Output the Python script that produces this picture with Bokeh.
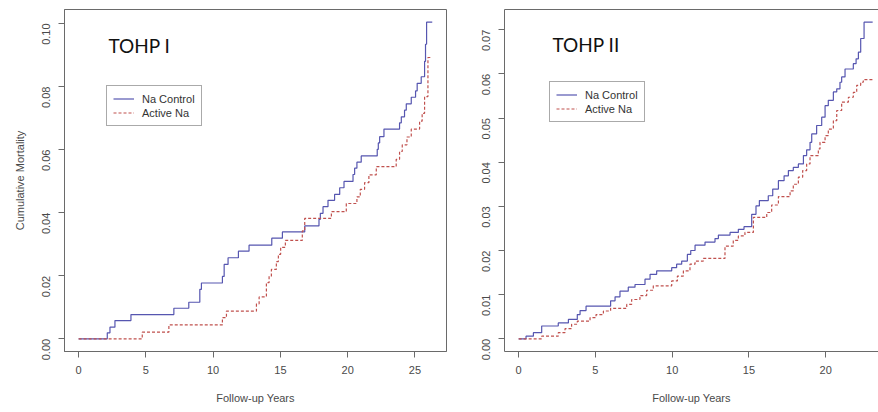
from bokeh.plotting import figure
from bokeh.layouts import row
from bokeh.models import (Legend, LegendItem, Label, FixedTicker,
                          NumeralTickFormatter, Range1d, LinearAxis)
from bokeh.embed import file_html
from bokeh.resources import INLINE

# ---------------- data ----------------
panel_titles = ["TOHP I", "TOHP II"]
series_names = ["Na Control", "Active Na"]

# TOHP I
t1_control_times = [2.13, 2.33, 2.70, 3.89, 7.08, 8.19, 9.01, 9.13, 10.69, 10.82,
                    11.11, 11.88, 12.67, 14.36, 15.15, 16.81, 17.87, 17.97, 18.17,
                    18.54, 19.03, 19.41, 19.73, 20.40, 20.52, 20.69, 21.01, 22.20,
                    22.28, 22.38, 22.70, 23.86, 23.99, 24.23, 24.36, 24.73, 25.05,
                    25.17, 25.47, 25.72, 25.79, 25.87]
t1_control_vals = [0.0019, 0.0037, 0.0058, 0.0077, 0.0097, 0.0116, 0.0157, 0.0177,
                   0.0198, 0.0236, 0.0257, 0.0278, 0.0297, 0.0319, 0.0339, 0.0358,
                   0.0379, 0.0398, 0.0419, 0.0439, 0.0458, 0.0479, 0.0499, 0.0521,
                   0.0541, 0.0560, 0.0580, 0.0601, 0.0621, 0.0641, 0.0665, 0.0685,
                   0.0704, 0.0725, 0.0745, 0.0766, 0.0786, 0.0810, 0.0831, 0.0880,
                   0.0934, 0.1004]
t1_active_times = [4.73, 6.71, 10.69, 10.99, 13.22, 13.42, 13.96, 14.16, 14.33, 14.70,
                   14.85, 15.02, 15.37, 16.63, 16.81, 18.79, 19.90, 20.69, 20.94,
                   21.26, 21.58, 22.13, 23.61, 23.86, 24.06, 24.41, 24.73, 25.35,
                   25.54, 25.72, 25.97]
t1_active_vals = [0.0021, 0.0044, 0.0067, 0.0088, 0.0111, 0.0133, 0.0178, 0.0199,
                  0.0220, 0.0245, 0.0268, 0.0290, 0.0312, 0.0342, 0.0382, 0.0403,
                  0.0429, 0.0450, 0.0474, 0.0495, 0.0520, 0.0546, 0.0569, 0.0594,
                  0.0615, 0.0640, 0.0665, 0.0690, 0.0715, 0.0768, 0.0892]
t1_end_time = 26.29

# TOHP II
t2_control_times = [0.48, 0.96, 1.50, 2.58, 3.24, 3.82, 4.00, 4.39, 5.99, 6.28, 6.60,
                    7.14, 7.58, 8.23, 8.56, 8.99, 9.97, 10.29, 10.62, 10.99, 11.21,
                    11.49, 12.14, 12.79, 13.01, 13.77, 14.31, 14.68, 15.18, 15.46,
                    15.68, 16.26, 16.55, 16.92, 17.29, 17.57, 17.89, 18.22, 18.55,
                    18.76, 18.98, 19.09, 19.41, 19.74, 19.96, 20.17, 20.50, 20.72,
                    20.93, 21.04, 21.26, 21.80, 21.98, 22.13, 22.28, 22.50]
t2_control_vals = [0.0006, 0.0014, 0.0029, 0.0036, 0.0044, 0.0055, 0.0064, 0.0074,
                   0.0086, 0.0095, 0.0108, 0.0117, 0.0123, 0.0135, 0.0146, 0.0154,
                   0.0161, 0.0169, 0.0176, 0.0191, 0.0200, 0.0212, 0.0219, 0.0227,
                   0.0235, 0.0241, 0.0248, 0.0254, 0.0282, 0.0301, 0.0313, 0.0324,
                   0.0339, 0.0358, 0.0369, 0.0381, 0.0388, 0.0396, 0.0415, 0.0428,
                   0.0445, 0.0464, 0.0483, 0.0502, 0.0528, 0.0540, 0.0559, 0.0566,
                   0.0581, 0.0593, 0.0611, 0.0623, 0.0634, 0.0649, 0.0680, 0.0717]
t2_active_times = [1.50, 2.58, 3.02, 3.45, 3.82, 4.65, 5.04, 5.52, 5.99, 7.04, 7.36,
                   7.90, 8.34, 8.77, 9.97, 10.34, 10.73, 11.16, 11.49, 12.03, 13.44,
                   13.98, 14.31, 14.74, 15.29, 16.16, 16.48, 16.92, 17.68, 17.89,
                   18.22, 18.50, 18.76, 18.98, 19.52, 19.63, 19.96, 20.17, 20.50,
                   20.72, 21.04, 21.48, 21.80, 22.02, 22.28, 22.45]
t2_active_vals = [0.0006, 0.0014, 0.0023, 0.0033, 0.0040, 0.0048, 0.0055, 0.0063,
                  0.0069, 0.0078, 0.0089, 0.0098, 0.0110, 0.0120, 0.0131, 0.0142,
                  0.0154, 0.0169, 0.0176, 0.0182, 0.0210, 0.0223, 0.0233, 0.0241,
                  0.0275, 0.0286, 0.0303, 0.0322, 0.0335, 0.0350, 0.0366, 0.0381,
                  0.0396, 0.0415, 0.0430, 0.0445, 0.0460, 0.0475, 0.0494, 0.0517,
                  0.0536, 0.0547, 0.0558, 0.0574, 0.0581, 0.0587]
t2_end_time = 23.06

t1_xticks = [0, 5, 10, 15, 20, 25]
t1_yticks = [0.00, 0.02, 0.04, 0.06, 0.08, 0.10]
t2_xticks = [0, 5, 10, 15, 20]
t2_yticks = [0.00, 0.01, 0.02, 0.03, 0.04, 0.05, 0.06, 0.07]

# ---------------- styling ----------------
BLUE = "#5656b0"
RED = "#c0504d"
FRAME = "#6a6a6a"
TXT = "#4a4a4a"
FONT = "Liberation Sans"


def curve(times, vals, end):
    xs = [0.0] + list(times) + [end]
    ys = [0.0] + list(vals) + [vals[-1]]
    return xs, ys


def style_axis(ax):
    ax.axis_line_color = FRAME
    ax.axis_line_width = 1
    ax.major_tick_line_color = FRAME
    ax.minor_tick_line_color = None
    ax.major_tick_out = 6
    ax.major_tick_in = 0
    ax.major_label_text_font = FONT
    ax.major_label_text_font_size = "11px"
    ax.major_label_text_color = TXT
    ax.axis_label_text_font = FONT
    ax.axis_label_text_font_size = "11px"
    ax.axis_label_text_font_style = "normal"
    ax.axis_label_text_color = TXT


def make_panel(title, ctl, act, end, xticks, yticks, xr, yr, width,
               ylabel, legend_loc, title_pos, border_left, border_right, full_box):
    p = figure(width=width, height=412, x_range=Range1d(*xr), y_range=Range1d(*yr),
               output_backend="svg", toolbar_location=None,
               min_border_left=border_left, min_border_right=border_right,
               min_border_top=9, min_border_bottom=61)
    p.xgrid.visible = False
    p.ygrid.visible = False
    p.background_fill_color = "white"
    p.border_fill_color = "white"

    cx, cy = curve(*ctl, end)
    ax_, ay_ = curve(*act, end)
    r1 = p.step(cx, cy, mode="after", line_color=BLUE, line_width=1.2)
    r2 = p.step(ax_, ay_, mode="after", line_color=RED, line_width=1.2,
                line_dash="3 2")

    xa = p.below[0]
    ya = p.left[0]
    xa.ticker = FixedTicker(ticks=xticks)
    ya.ticker = FixedTicker(ticks=yticks)
    ya.formatter = NumeralTickFormatter(format="0.00")
    ya.major_label_orientation = 1.5707963
    style_axis(xa)
    style_axis(ya)
    xa.major_label_standoff = 8
    ya.major_label_standoff = 12
    xa.axis_label = "Follow-up Years"
    xa.axis_label_standoff = 15
    if ylabel:
        ya.axis_label = ylabel
        ya.axis_label_standoff = 10

    if full_box:
        p.outline_line_color = FRAME
        p.outline_line_width = 1
    else:
        # the frame's right side lies beyond the picture: draw only the top edge
        p.outline_line_color = None
        top = LinearAxis(ticker=FixedTicker(ticks=[]))
        top.axis_line_color = FRAME
        top.axis_line_width = 1
        top.major_tick_line_color = None
        top.minor_tick_line_color = None
        top.major_tick_out = 0
        top.major_tick_in = 0
        top.major_label_standoff = 0
        top.major_label_text_font_size = "0px"
        p.add_layout(top, "above")

    legend = Legend(items=[LegendItem(label=series_names[0], renderers=[r1]),
                           LegendItem(label=series_names[1], renderers=[r2])],
                    location=legend_loc)
    legend.border_line_color = "#555555"
    legend.border_line_width = 1
    legend.background_fill_color = "white"
    legend.background_fill_alpha = 1
    legend.padding = 6
    legend.margin = 0
    legend.spacing = 1
    legend.glyph_width = 21
    legend.glyph_height = 13
    legend.label_height = 13
    legend.label_standoff = 8
    legend.label_text_font = FONT
    legend.label_text_font_size = "11px"
    legend.label_text_color = "#333333"
    p.add_layout(legend, "center")

    lab = Label(x=title_pos[0], y=title_pos[1], x_units="screen", y_units="screen",
                text=title, text_font="Lato", text_font_size="19px",
                text_color="#111111")
    p.add_layout(lab)
    return p


p1 = make_panel(panel_titles[0], (t1_control_times, t1_control_vals),
                (t1_active_times, t1_active_vals), t1_end_time,
                t1_xticks, t1_yticks, (-1.05, 27.35), (-0.00402, 0.10442), 448,
                "Cumulative Mortality", (42, 225), (44, 295), 64, 2, True)
p2 = make_panel(panel_titles[1], (t2_control_times, t2_control_vals),
                (t2_active_times, t2_active_vals), t2_end_time,
                t2_xticks, t2_yticks, (-0.922, 23.44), (-0.00287, 0.07457), 430,
                None, (45, 229), (48, 296), 56, 0, False)

layout = row(p1, p2)
open("out.html", "w").write(file_html(layout, INLINE))
